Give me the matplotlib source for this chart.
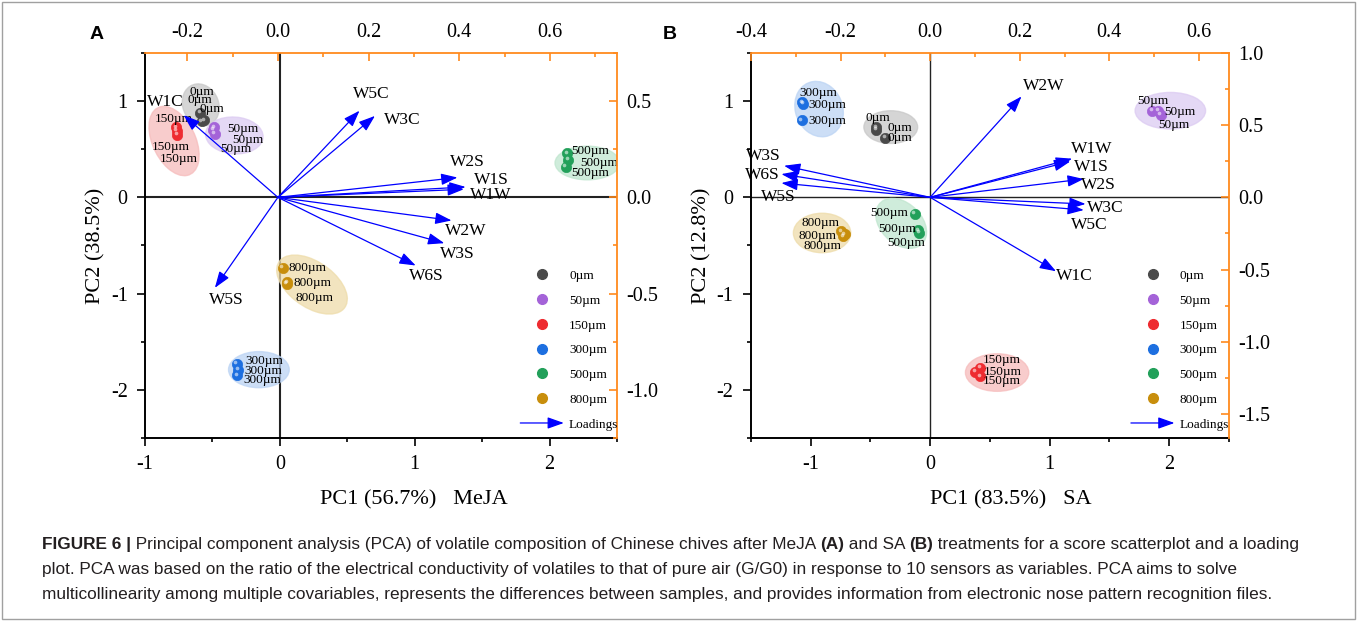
import matplotlib
matplotlib.use('Agg')
import matplotlib.pyplot as plt
from matplotlib.patches import Ellipse, FancyArrowPatch, Rectangle
from matplotlib.lines import Line2D
from matplotlib.legend_handler import HandlerBase
from matplotlib.ticker import MultipleLocator, FormatStrFormatter
import matplotlib.transforms as mtransforms

plt.rcParams['font.family'] = ['Liberation Serif', 'DejaVu Serif']
plt.rcParams['axes.unicode_minus'] = False

groups = ['0µm', '50µm', '150µm', '300µm', '500µm', '800µm']
colors = ['#4a4a4a', '#a463d8', '#ee2b30', '#1d6fe0', '#22a05a', '#c88e0c']
fills = ['#c8c8c8', '#dccbf2', '#f6bcbc', '#bcd4f4', '#c0e6cf', '#eedcaa']

# ---- panel A (MeJA) scores ----
a_px = [[-0.59, -0.58, -0.56], [-0.49, -0.485, -0.495], [-0.77, -0.76, -0.765],
        [-0.32, -0.31, -0.315], [2.13, 2.135, 2.12], [0.02, 0.055, 0.05]]
a_py = [[0.88, 0.79, 0.80], [0.73, 0.66, 0.70], [0.73, 0.65, 0.69],
        [-1.73, -1.79, -1.85], [0.46, 0.39, 0.32], [-0.73, -0.88, -0.90]]
a_lx = [[-0.58, -0.595, -0.505], [-0.277, -0.238, -0.33], [-0.79, -0.81, -0.75],
        [-0.112, -0.12, -0.13], [2.30, 2.365, 2.30], [0.206, 0.243, 0.26]]
a_ly = [[1.09, 1.01, 0.92], [0.715, 0.60, 0.50], [0.81, 0.52, 0.40],
        [-1.705, -1.80, -1.90], [0.48, 0.357, 0.25], [-0.73, -0.89, -1.05]]
# ellipse centre x, centre y, width, height, angle
a_ell = [(-0.587, 0.96, 0.27, 0.44, 8), (-0.338, 0.643, 0.43, 0.38, -15),
         (-0.785, 0.585, 0.33, 0.74, 15), (-0.156, -1.79, 0.45, 0.375, 0),
         (2.28, 0.357, 0.48, 0.35, 0), (0.238, -0.906, 0.70, 0.40, -54)]

a_sensors = ['W1C', 'W5C', 'W3C', 'W2S', 'W1S', 'W1W', 'W2W', 'W3S', 'W6S', 'W5S']
a_load_x = [-0.208, 0.18, 0.214, 0.396, 0.414, 0.41, 0.383, 0.367, 0.304, -0.139]
a_load_y = [0.427, 0.45, 0.423, 0.103, 0.054, 0.042, -0.12, -0.238, -0.354, -0.47]
a_sens_lx = [-0.248, 0.205, 0.275, 0.417, 0.47, 0.47, 0.414, 0.396, 0.328, -0.114]
a_sens_ly = [0.496, 0.536, 0.401, 0.184, 0.092, 0.010, -0.176, -0.293, -0.41, -0.531]

# ---- panel B (SA) scores ----
b_px = [[-0.45, -0.45, -0.375], [1.86, 1.91, 1.93], [0.417, 0.378, 0.417],
        [-1.07, -1.065, -1.075], [-0.13, -0.10, -0.095], [-0.745, -0.715, -0.73]]
b_py = [[0.73, 0.70, 0.62], [0.90, 0.90, 0.86], [-1.77, -1.81, -1.86],
        [0.99, 0.97, 0.80], [-0.17, -0.34, -0.37], [-0.35, -0.385, -0.405]]
b_lx = [[-0.44, -0.25, -0.25], [1.865, 2.09, 2.04], [0.60, 0.61, 0.60],
        [-0.94, -0.86, -0.86], [-0.345, -0.276, -0.2], [-0.92, -0.94, -0.905]]
b_ly = [[0.82, 0.72, 0.615], [1.005, 0.884, 0.75], [-1.69, -1.81, -1.91],
        [1.08, 0.96, 0.79], [-0.166, -0.325, -0.47], [-0.266, -0.404, -0.508]]
b_ell = [(-0.33, 0.73, 0.45, 0.34, 0), (2.01, 0.90, 0.59, 0.38, 0),
         (0.56, -1.82, 0.53, 0.39, 0), (-0.93, 0.917, 0.40, 0.58, 10),
         (-0.243, -0.27, 0.37, 0.56, 30), (-0.905, -0.37, 0.48, 0.41, 0)]

b_sensors = ['W2W', 'W1W', 'W1S', 'W2S', 'W3C', 'W5C', 'W1C', 'W3S', 'W6S', 'W5S']
b_load_x = [0.204, 0.317, 0.313, 0.343, 0.347, 0.343, 0.281, -0.326, -0.332, -0.332]
b_load_y = [0.699, 0.268, 0.249, 0.127, -0.046, -0.088, -0.512, 0.219, 0.161, 0.099]
b_sens_lx = [0.253, 0.36, 0.36, 0.376, 0.39, 0.356, 0.322, -0.373, -0.375, -0.339]
b_sens_ly = [0.768, 0.334, 0.21, 0.083, -0.074, -0.189, -0.547, 0.284, 0.152, 0.0]

ORANGE = '#ff8a1e'
ARROW = '#0000ff'
arrowstyle = '-|>,head_length=0.9,head_width=0.32'


class ArrowHandler(HandlerBase):
    def create_artists(self, legend, orig_handle, xdescent, ydescent,
                       width, height, fontsize, trans):
        y = height / 2 - ydescent
        a = FancyArrowPatch((-xdescent, y), (width - xdescent, y),
                            arrowstyle=arrowstyle, mutation_scale=11,
                            color=ARROW, lw=0.9, shrinkA=0, shrinkB=0,
                            transform=trans)
        return [a]


def panel(fig, rect, xlim, px, py, lx, ly, ell, sensors, ldx, ldy, slx, sly,
          top_lim, right_lim, zero_lw, xlabel, xlab_x, ylabel, letter, letter_x):
    ax = fig.add_axes(rect)
    ax.set_xlim(*xlim)
    ax.set_ylim(-2.5, 1.5)
    for s in ['top', 'right']:
        ax.spines[s].set_visible(False)
    for s in ['left', 'bottom']:
        ax.spines[s].set_linewidth(1.4)
    ax.xaxis.set_major_locator(MultipleLocator(1))
    ax.xaxis.set_minor_locator(MultipleLocator(0.5))
    ax.yaxis.set_major_locator(MultipleLocator(1))
    ax.yaxis.set_minor_locator(MultipleLocator(0.5))
    ax.tick_params(which='both', direction='out', labelsize=14.5, width=1.2, pad=7)
    ax.tick_params(which='major', length=5.5)
    ax.tick_params(which='minor', length=3)
    ax.axhline(0, color='#222222', lw=zero_lw, zorder=1)
    ax.axvline(0, color='#222222', lw=zero_lw, zorder=1)

    for i, g in enumerate(groups):
        cx, cy, w, h, ang = ell[i]
        ax.add_patch(Ellipse((cx, cy), w, h, angle=ang, facecolor=fills[i],
                             edgecolor=fills[i], alpha=0.75, lw=1, zorder=2))
        ax.scatter(px[i], py[i], s=55, color=colors[i], edgecolors=colors[i],
                   linewidths=0.5, zorder=4)
        hl = mtransforms.offset_copy(ax.transData, fig=fig, x=-1.3, y=1.5, units='dots')
        ax.scatter(px[i], py[i], s=7, color='white', alpha=0.55, lw=0,
                   transform=hl, zorder=5)
        for tx, ty in zip(lx[i], ly[i]):
            ax.text(tx, ty, g, fontsize=9.5, ha='center', va='center', zorder=6)

    ax.set_xlabel(xlabel, fontsize=16, labelpad=12)
    ax.xaxis.set_label_coords(xlab_x, -0.135)
    ax.set_ylabel(ylabel, fontsize=16, labelpad=4)

    # loadings axes (top / right)
    ax2 = fig.add_axes(rect)
    ax2.patch.set_visible(False)
    ax2.set_xlim(*top_lim)
    ax2.set_ylim(*right_lim)
    ax2.xaxis.tick_top()
    ax2.yaxis.tick_right()
    for s in ['left', 'bottom']:
        ax2.spines[s].set_visible(False)
    for s in ['top', 'right']:
        ax2.spines[s].set_color(ORANGE)
        ax2.spines[s].set_linewidth(1.3)
    ax2.xaxis.set_major_locator(MultipleLocator(0.2))
    ax2.xaxis.set_minor_locator(MultipleLocator(0.1))
    ax2.yaxis.set_major_locator(MultipleLocator(0.5))
    ax2.yaxis.set_minor_locator(MultipleLocator(0.25))
    ax2.xaxis.set_major_formatter(FormatStrFormatter('%.1f'))
    ax2.yaxis.set_major_formatter(FormatStrFormatter('%.1f'))
    ax2.tick_params(which='both', direction='in', color=ORANGE, labelsize=14.5, width=1.2)
    ax2.tick_params(which='major', length=5.5)
    ax2.tick_params(which='minor', length=3)
    ax2.tick_params(axis='x', pad=8)
    ax2.tick_params(axis='y', pad=6.5)

    for s, x, y, tx, ty in zip(sensors, ldx, ldy, slx, sly):
        ax2.annotate('', xy=(x, y), xytext=(0, 0),
                     arrowprops=dict(arrowstyle=arrowstyle, mutation_scale=11,
                                     color=ARROW, lw=0.9, shrinkA=0, shrinkB=0),
                     zorder=3)
        ax2.text(tx, ty, s, fontsize=12.5, ha='center', va='center')

    handles = [Line2D([], [], ls='none', marker='o', markersize=7,
                      color=c) for c in colors]
    arr = FancyArrowPatch((0, 0), (1, 1))
    ax2.legend(handles + [arr], groups + ['Loadings'],
               handler_map={FancyArrowPatch: ArrowHandler()},
               loc='upper left', bbox_to_anchor=(0.795, 0.437),
               frameon=False, fontsize=9.5, borderpad=0, borderaxespad=0,
               handlelength=3.3, handletextpad=0.4, labelspacing=0.95)

    fig.text(letter_x, 0.944, letter, fontsize=14, fontweight='bold',
             family='Liberation Sans', ha='center', va='center')
    return ax, ax2


fig = plt.figure(figsize=(13.57, 6.21), dpi=100)

panel(fig, [0.1069, 0.2947, 0.3478, 0.62], (-1.0, 2.5), a_px, a_py, a_lx, a_ly, a_ell,
      a_sensors, a_load_x, a_load_y, a_sens_lx, a_sens_ly,
      (-0.293, 0.748), (-1.25, 0.75), 1.5,
      'PC1 (56.7%)   MeJA', 0.569, 'PC2 (38.5%)', 'A', 97 / 1357)
ax_b, ax2_b = panel(fig, [0.5534, 0.2947, 0.3522, 0.62], (-1.5, 2.5), b_px, b_py, b_lx, b_ly,
                    b_ell, b_sensors, b_load_x, b_load_y, b_sens_lx, b_sens_ly,
                    (-0.4, 0.667), (-1.667, 1.0), 1.0,
                    'PC1 (83.5%)   SA', 0.543, 'PC2 (12.8%)', 'B', 670 / 1357)

# caption
cap_kw = dict(fontsize=12.4, family='Liberation Sans', color='#231f20')
line1 = [('FIGURE 6 |', 'bold'),
         (' Principal component analysis (PCA) of volatile composition of Chinese chives after MeJA ', 'normal'),
         ('(A)', 'bold'), (' and SA ', 'normal'), ('(B)', 'bold'),
         (' treatments for a score scatterplot and a loading', 'normal')]
t = fig.text(42 / 1357, 1 - 549 / 621, line1[0][0], fontweight=line1[0][1],
             ha='left', va='baseline', **cap_kw)
for txt, wt in line1[1:]:
    t = ax2_b.annotate(txt, xy=(1, 0), xycoords=t, ha='left', va='bottom',
                       fontweight=wt, annotation_clip=False, **cap_kw)
fig.text(42 / 1357, 1 - 574 / 621,
         'plot. PCA was based on the ratio of the electrical conductivity of volatiles to that of pure air (G/G0) in response to 10 sensors as variables. PCA aims to solve',
         ha='left', va='baseline', **cap_kw)
fig.text(42 / 1357, 1 - 599 / 621,
         'multicollinearity among multiple covariables, represents the differences between samples, and provides information from electronic nose pattern recognition files.',
         ha='left', va='baseline', **cap_kw)

fig.patches.append(Rectangle((0.0015, 0.0025), 0.997, 0.995, transform=fig.transFigure,
                             fill=False, edgecolor='#a0a0a0', lw=1))

fig.savefig('out.png', dpi=100)
